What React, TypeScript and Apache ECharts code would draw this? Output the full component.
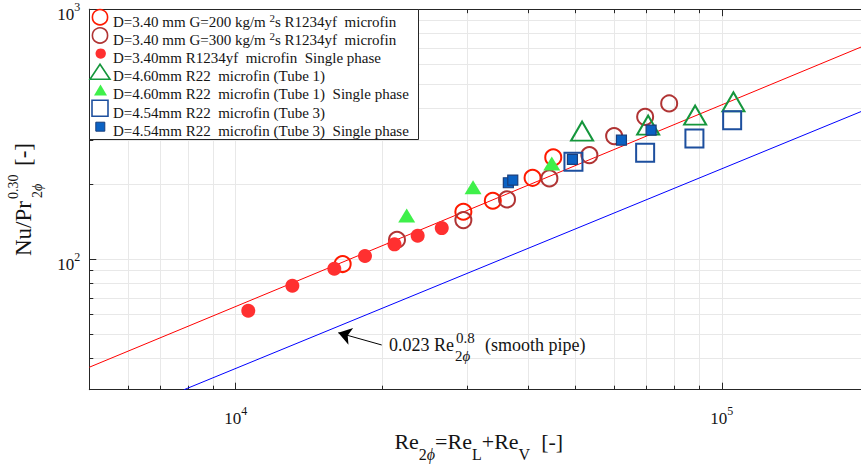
import React, { useEffect, useRef } from 'react';
import * as echarts from 'echarts';

const FONT = '"Liberation Serif", "Times New Roman", serif';
const INK = '#141414';

// ---------------- data (Re_2phi, Nu/Pr^0.30) ----------------
const reG200 = [16600, 29400, 33800, 40800, 45000];
const nuG200 = [95.5, 154.6, 171.1, 211.4, 255.2];

const reG300 = [21470, 29400, 36150, 44190, 53400, 60040, 69540, 77920];
const nuG300 = [119.5, 143.2, 173.3, 210.3, 260.6, 310.5, 370.8, 419.6];

const reR1234Single = [10615, 13080, 15955, 18450, 21215, 23680, 26540];
const nuR1234Single = [62.1, 78.2, 91.5, 102.8, 114.5, 124.0, 133.0];

const reTube1 = [51590, 70540, 88120, 105650];
const nuTube1 = [325.1, 343.6, 376.7, 425.8];

const reTube1Single = [22480, 30780, 44690];
const nuTube1Single = [149.3, 193.6, 241.4];

const reTube3 = [49520, 69540, 87820, 105000];
const nuTube3 = [245.0, 266.2, 304.0, 359.7];

const reTube3Single = [36380, 37150, 49280, 62150, 71530];
const nuTube3Single = [202.0, 207.0, 250.5, 299.2, 328.1];

// correlation lines (end points)
const fitRe = [5000, 200000];
const fitNu = [36.9, 725];
const smoothRe = [7830, 200000];
const smoothNu = [30, 400];

// annotation arrow (tail -> head)
const arrowRe = [19970, 16260];
const arrowNu = [45.3, 50.7];

// axes
const xRange = [5000, 200000];
const yRange = [30, 1000];
const xMajorTicks = [10000, 100000];
const xMinorTicks = [5000, 6000, 7000, 8000, 9000, 20000, 30000, 40000, 50000, 60000, 70000, 80000, 90000, 200000];
const yMajorTicks = [100, 1000];
const yMinorTicks = [30, 40, 50, 60, 70, 80, 90, 200, 300, 400, 500, 600, 700, 800, 900];

const legendLabels = [
  'D=3.40 mm G=200 kg/m ²s R1234yf  microfin',
  'D=3.40 mm G=300 kg/m ²s R1234yf  microfin',
  'D=3.40mm R1234yf  microfin  Single phase',
  'D=4.60mm R22  microfin (Tube 1)',
  'D=4.60mm R22  microfin (Tube 1)  Single phase',
  'D=4.54mm R22  microfin (Tube 3)',
  'D=4.54mm R22  microfin (Tube 3)  Single phase',
];

// ---------------- helpers ----------------
const lg = (v: number) => Math.log10(v);
const pairs = (xs: number[], ys: number[]) => xs.map((x, i) => [lg(x), lg(ys[i])]);
const powLabel = (v: number) =>
  Math.abs(v - Math.round(v)) < 1e-6 ? `{m|10}{s|${Math.round(v)}}` : '';

const COL = {
  g200: '#ff1a00',
  g300: '#b03434',
  single: '#ff3030',
  tube1: '#15963c',
  tube1s: '#3ff04a',
  tube3: '#1d4f9e',
  tube3s: '#0b62c4',
  tube3sEdge: '#183e7c',
};

const ZG = 100;

function buildOption() {
  const xMin = lg(xRange[0]);
  const xMax = lg(xRange[1]);
  const yMin = lg(yRange[0]);
  const yMax = lg(yRange[1]);
  const xAll = [...xMinorTicks, ...xMajorTicks].map(lg).sort((a, b) => a - b);
  const yAll = [...yMinorTicks, ...yMajorTicks].map(lg).sort((a, b) => a - b);
  const axisCol = '#262626';
  const gridCol = '#e8e8e8';

  const xRich = {
    m: { fontSize: 17, fontFamily: FONT, color: INK, padding: [5, 0, 0, 0] },
    s: { fontSize: 12, fontFamily: FONT, color: INK, padding: [0, 0, 10, 0] },
  };
  const yRich = {
    m: { fontSize: 17, fontFamily: FONT, color: INK, padding: [10, 0, 0, 0] },
    s: { fontSize: 12, fontFamily: FONT, color: INK, padding: [5, 0, 10, 0] },
  };

  const xBase = (pos: string) => ({
    type: 'value',
    gridIndex: 0,
    position: pos,
    min: xMin,
    max: xMax,
    nameMoveOverlap: false,
  });
  const yBase = (pos: string) => ({
    type: 'value',
    gridIndex: 0,
    position: pos,
    min: yMin,
    max: yMax,
  });

  const titleRich = {
    m: { fontSize: 22, fontFamily: FONT, color: INK },
    s: { fontSize: 16, fontFamily: FONT, color: INK, padding: [26, 0, 0, 0] },
    i: { fontSize: 16, fontFamily: FONT, fontStyle: 'italic', color: INK, padding: [26, 0, 0, 0] },
  };

  const hollow = (name: string, re: number[], nu: number[], symbol: string, size: any, color: string) => ({
    name,
    type: 'scatter',
    data: pairs(re, nu),
    symbol,
    symbolSize: size,
    z: 3,
    silent: true,
    itemStyle: { color: 'rgba(255,255,255,0)', borderColor: color, borderWidth: 2, opacity: 1 },
  });
  const filled = (name: string, re: number[], nu: number[], symbol: string, size: any, color: string, edge?: string) => ({
    name,
    type: 'scatter',
    data: pairs(re, nu),
    symbol,
    symbolSize: size,
    z: 3,
    silent: true,
    itemStyle: { color, borderColor: edge || color, borderWidth: edge ? 1.2 : 0, opacity: 1 },
  });

  // ---- legend drawn as graphic elements ----
  const legendEls: any[] = [
    {
      type: 'rect',
      z: ZG,
      shape: { x: 89.5, y: 9.5, width: 329, height: 130 },
      style: { fill: '#ffffff', stroke: '#262626', lineWidth: 1 },
    },
  ];
  const icx = 100;
  const rowY = (i: number) => 21.5 + i * 18.2;
  const icY = (i: number) => rowY(i) - 4.3;
  legendEls.push(
    { type: 'circle', z: ZG + 1, shape: { cx: icx, cy: icY(0), r: 7.6 }, style: { fill: 'none', stroke: COL.g200, lineWidth: 1.6 } },
    { type: 'circle', z: ZG + 1, shape: { cx: icx, cy: icY(1), r: 7.6 }, style: { fill: 'none', stroke: COL.g300, lineWidth: 1.6 } },
    { type: 'circle', z: ZG + 1, shape: { cx: icx + 0.7, cy: icY(2), r: 5.2 }, style: { fill: COL.single } },
    {
      type: 'polygon',
      z: ZG + 1,
      shape: { points: [[icx - 10, icY(3) + 7.5], [icx + 10, icY(3) + 7.5], [icx, icY(3) - 7.5]] },
      style: { fill: 'none', stroke: COL.tube1, lineWidth: 1.6 },
    },
    {
      type: 'polygon',
      z: ZG + 1,
      shape: { points: [[icx - 6, icY(4) + 5.5], [icx + 7, icY(4) + 5.5], [icx + 0.5, icY(4) - 5.5]] },
      style: { fill: COL.tube1s },
    },
    { type: 'rect', z: ZG + 1, shape: { x: icx - 8, y: icY(5) - 8, width: 16, height: 16 }, style: { fill: 'none', stroke: COL.tube3, lineWidth: 1.6 } },
    { type: 'rect', z: ZG + 1, shape: { x: icx - 4.2, y: icY(6) - 4.2, width: 9, height: 9 }, style: { fill: COL.tube3s, stroke: COL.tube3sEdge, lineWidth: 1 } },
  );
  const legRich = {
    n: { fontSize: 15, fontFamily: FONT, color: INK, fill: INK },
    p: { fontSize: 11, fontFamily: FONT, color: INK, fill: INK, padding: [0, 0, 8, 0] },
  };
  legendLabels.forEach((t, i) => {
    const parts = t.split('²');
    const rich = parts.length > 1 ? `{n|${parts[0]}}{p|2}{n|${parts[1]}}` : `{n|${t}}`;
    legendEls.push({
      type: 'text',
      z: ZG + 1,
      x: 113,
      y: rowY(i),
      style: {
        text: rich,
        rich: legRich,
        fontSize: 15,
        fontFamily: FONT,
        fill: INK,
        align: 'left',
        textAlign: 'left',
        verticalAlign: 'middle',
        textVerticalAlign: 'middle',
      },
    });
  });

  const txt = (x: number, y: number, text: string, size: number) => ({
    type: 'text',
    z: ZG,
    x,
    y,
    style: {
      text,
      fontSize: size,
      fontFamily: FONT,
      fill: INK,
      align: 'left',
      textAlign: 'left',
      verticalAlign: 'middle',
      textVerticalAlign: 'middle',
    },
  });
  const phiSub = (x: number, y: number, size: number) => ({
    type: 'text',
    z: ZG,
    x,
    y,
    style: {
      text: '{a|2}{b|ϕ}',
      fontSize: size,
      fontFamily: FONT,
      fill: INK,
      align: 'left',
      textAlign: 'left',
      verticalAlign: 'middle',
      textVerticalAlign: 'middle',
      rich: {
        a: { fontSize: size, fontFamily: FONT, fill: INK, color: INK },
        b: { fontSize: size, fontFamily: FONT, fontStyle: 'italic', fill: INK, color: INK },
      },
    },
  });

  const yTitle = {
    type: 'group',
    x: 23,
    y: 256,
    rotation: Math.PI / 2,
    children: [
      txt(0, 0, 'Nu/Pr', 23),
      txt(57, -10, '0.30', 14),
      phiSub(58, 14, 14),
      txt(90, 0, '[-]', 23),
    ],
  };

  const annotation = {
    type: 'group',
    x: 389,
    y: 345,
    children: [
      txt(0, 0, '0.023 Re', 18),
      phiSub(66, 11, 15),
      txt(67, -7, '0.8', 15),
      txt(96, 0, '(smooth pipe)', 18),
    ],
  };

  return {
    animation: false,
    backgroundColor: '#ffffff',
    textStyle: { fontFamily: FONT },
    grid: { left: 89.3, right: -7.2, top: 9.2, bottom: 81.3, outerBoundsMode: 'none', containLabel: false },
    xAxis: [
      {
        ...xBase('bottom'),
        name: '{m|Re}{s|2}{i|ϕ}{m|=Re}{s|L}{m|+Re}{s|V}{m|  [-]}',
        nameLocation: 'middle',
        nameGap: 31,
        nameTextStyle: { rich: titleRich },
        axisLine: { show: true, lineStyle: { color: axisCol, width: 1 } },
        axisTick: { show: true, inside: true, length: 4, customValues: xAll, lineStyle: { color: axisCol } },
        splitLine: { show: true, lineStyle: { color: gridCol, width: 1 } },
        minorTick: { show: false },
        axisLabel: { show: true, customValues: xMajorTicks.map(lg), formatter: powLabel, rich: xRich, margin: 15 },
      },
      {
        ...xBase('top'),
        axisLine: { show: true, lineStyle: { color: axisCol, width: 1 } },
        axisTick: { show: true, inside: true, length: 4, customValues: xAll, lineStyle: { color: axisCol } },
        splitLine: { show: false },
        axisLabel: { show: false },
      },
      {
        ...xBase('bottom'),
        axisLine: { show: false },
        axisTick: { show: true, inside: true, length: 7, customValues: xMajorTicks.map(lg), lineStyle: { color: axisCol } },
        splitLine: { show: false },
        axisLabel: { show: false },
      },
      {
        ...xBase('top'),
        axisLine: { show: false },
        axisTick: { show: true, inside: true, length: 7, customValues: xMajorTicks.map(lg), lineStyle: { color: axisCol } },
        splitLine: { show: false },
        axisLabel: { show: false },
      },
    ],
    yAxis: [
      {
        ...yBase('left'),
        axisLine: { show: true, lineStyle: { color: axisCol, width: 1 } },
        axisTick: { show: true, inside: true, length: 4, customValues: yAll, lineStyle: { color: axisCol } },
        splitLine: { show: true, lineStyle: { color: gridCol, width: 1 } },
        minorTick: { show: false },
        axisLabel: { show: true, customValues: yMajorTicks.map(lg), formatter: powLabel, rich: yRich, margin: 9 },
      },
      {
        ...yBase('left'),
        axisLine: { show: false },
        axisTick: { show: true, inside: true, length: 7, customValues: yMajorTicks.map(lg), lineStyle: { color: axisCol } },
        splitLine: { show: false },
        axisLabel: { show: false },
      },
    ],
    series: [
      {
        name: 'fit',
        type: 'line',
        data: pairs(fitRe, fitNu),
        symbol: 'none',
        showSymbol: false,
        silent: true,
        z: 2,
        lineStyle: { color: '#ff0000', width: 1 },
      },
      {
        name: 'smooth pipe',
        type: 'line',
        data: pairs(smoothRe, smoothNu),
        symbol: 'none',
        showSymbol: false,
        silent: true,
        z: 2,
        lineStyle: { color: '#0000ff', width: 1 },
        markLine: {
          silent: true,
          symbol: ['none', 'arrow'],
          symbolSize: 13,
          label: { show: false },
          itemStyle: { color: '#000000' },
          lineStyle: { color: '#000000', width: 1, type: 'solid' },
          emphasis: { disabled: true },
          data: [
            [
              { coord: [lg(arrowRe[0]), lg(arrowNu[0])] },
              { coord: [lg(arrowRe[1]), lg(arrowNu[1])] },
            ],
          ],
        },
      },
      hollow(legendLabels[0], reG200, nuG200, 'circle', 16, COL.g200),
      hollow(legendLabels[1], reG300, nuG300, 'circle', 16, COL.g300),
      filled(legendLabels[2], reR1234Single, nuR1234Single, 'circle', 14, COL.single),
      hollow(legendLabels[3], reTube1, nuTube1, 'triangle', [22, 19], COL.tube1),
      filled(legendLabels[4], reTube1Single, nuTube1Single, 'triangle', [17, 14], COL.tube1s),
      hollow(legendLabels[5], reTube3, nuTube3, 'rect', 18, COL.tube3),
      filled(legendLabels[6], reTube3Single, nuTube3Single, 'rect', 10, COL.tube3s, COL.tube3sEdge),
    ],
    graphic: [...legendEls, { ...yTitle, z: ZG }, { ...annotation, z: ZG }],
  };
}

export default function App() {
  const ref = useRef<HTMLDivElement>(null);
  useEffect(() => {
    if (!ref.current) return;
    const chart = echarts.init(ref.current, undefined, { renderer: 'svg' });
    chart.setOption(buildOption() as any);
    return () => chart.dispose();
  }, []);
  return (
    <div
      ref={ref}
      style={{ position: 'absolute', left: 0, top: 0, width: 861, height: 471, background: '#fff' }}
    />
  );
}
